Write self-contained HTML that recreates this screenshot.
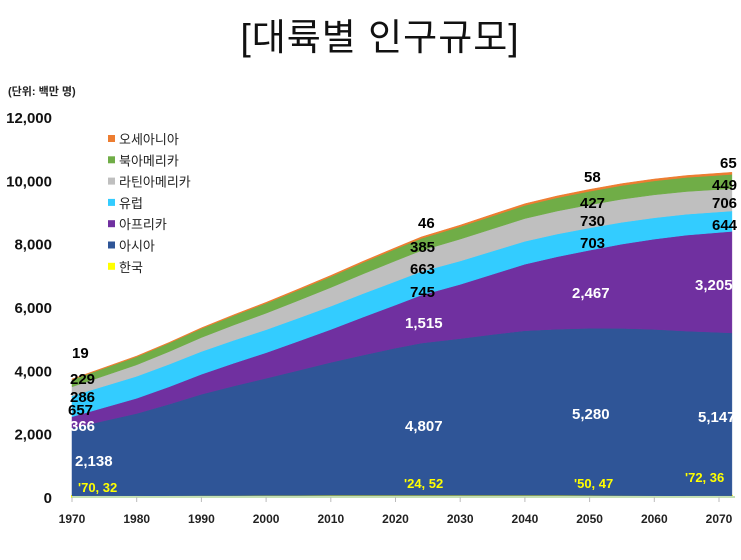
<!DOCTYPE html>
<html><head><meta charset="utf-8">
<style>
body{margin:0;background:#fff;width:741px;height:555px;overflow:hidden;font-family:"Liberation Sans","Noto Sans CJK KR",sans-serif;}
svg text{font-family:"Liberation Sans","Noto Sans CJK KR",sans-serif;}
</style></head>
<body>
<svg id="chart" width="741" height="555" xmlns="http://www.w3.org/2000/svg">
<text x="380" y="50" text-anchor="middle" font-size="37" letter-spacing="1" fill="#111">[대륙별 인구규모]</text>
<text x="8" y="95" font-size="11" font-weight="bold" fill="#222">(단위: 백만 명)</text>
<g id="areas"></g><g id="axes"></g><g id="labels"></g><g id="legend"></g>
</svg>
<script>
const years=[1970,1975,1980,1985,1990,1995,2000,2005,2010,2015,2020,2024,2030,2035,2040,2045,2050,2055,2060,2065,2072];
const korea=[32,35,38,41,43,45,47,48,49,51,52,52,52,51,50,49,47,45,42,39,36];
const asia=[2138,2370,2600,2890,3200,3460,3700,3950,4200,4430,4650,4807,4950,5080,5200,5250,5280,5280,5250,5200,5147];
const africa=[366,420,480,550,630,720,810,920,1040,1200,1360,1515,1710,1900,2100,2290,2467,2660,2850,3030,3205];
const europe=[657,677,694,708,721,724,726,731,736,742,746,745,740,733,725,715,703,690,675,660,644];
const latam=[286,324,362,402,443,483,522,557,591,622,650,663,690,706,720,727,730,729,725,718,706];
const namerica=[229,241,254,267,280,296,312,328,343,360,375,385,395,404,413,420,427,433,438,443,449];
const oceania=[19,21,23,25,27,29,31,34,37,40,43,46,48,51,53,56,58,60,62,63,65];
const yTicks=[0,2000,4000,6000,8000,10000,12000];
const xTicks=[1970,1980,1990,2000,2010,2020,2030,2040,2050,2060,2070];
const series=[["korea",korea,"#FFFF00"],["asia",asia,"#2F5597"],["africa",africa,"#7030A0"],["europe",europe,"#33CCFF"],["latin-america",latam,"#BFBFBF"],["north-america",namerica,"#70AD47"],["oceania",oceania,"#ED7D31"]];
const X=y=>72+(y-1970)*6.47;
const Y=v=>497-v*0.03167;
const NS="http://www.w3.org/2000/svg";
function mk(tag,attrs,parent,txt){const e=document.createElementNS(NS,tag);for(const k in attrs)e.setAttribute(k,attrs[k]);if(txt!==undefined)e.textContent=txt;parent.appendChild(e);return e;}
const areas=document.getElementById('areas');
let base=years.map(()=>0);
series.forEach(([name,vals,col])=>{
  const top=base.map((b,i)=>b+vals[i]);
  let d="";
  years.forEach((y,i)=>{d+=(i?"L":"M")+X(y).toFixed(1)+","+Y(top[i]).toFixed(1);});
  for(let i=years.length-1;i>=0;i--)d+="L"+X(years[i]).toFixed(1)+","+Y(base[i]).toFixed(1);
  const p=mk('path',{d:d+"Z",fill:col,stroke:col,'stroke-width':name==="korea"?2:0.5},areas);
  
  
  base=top;
});
const axes=document.getElementById('axes');
const ax=mk('line',{x1:72,y1:497,x2:735,y2:497,stroke:'#C5E0B4','stroke-width':2},axes);


yTicks.forEach(v=>{const t=mk('text',{x:52,y:Y(v)+6,'text-anchor':'end','font-size':15,'font-weight':'bold',fill:'#111'},axes,v.toLocaleString('en-US'));

});
xTicks.forEach(y=>{const l=mk('line',{x1:X(y),y1:497,x2:X(y),y2:502,stroke:'#bbb'},axes);


const t=mk('text',{x:X(y),y:523,'text-anchor':'middle','font-size':12,'font-weight':'bold',fill:'#222'},axes,y);

});
const labels=document.getElementById('labels');
const lab=[[72,'19',358,'#000',15],[70,'229',384,'#000',15],[70,'286',402,'#000',15],[68,'657',415,'#000',15],[70,'366',431,'#fff',15],[75,'2,138',466,'#fff',15],[78,"'70, 32",492,'#FFFF00',13],
[418,'46',228,'#000',15],[410,'385',252,'#000',15],[410,'663',274,'#000',15],[410,'745',297,'#000',15],[405,'1,515',328,'#fff',15],[405,'4,807',431,'#fff',15],[404,"'24,  52",488,'#FFFF00',13],
[584,'58',182,'#000',15],[580,'427',208,'#000',15],[580,'730',226,'#000',15],[580,'703',248,'#000',15],[572,'2,467',298,'#fff',15],[572,'5,280',419,'#fff',15],[574,"'50, 47",488,'#FFFF00',13],
[720,'65',168,'#000',15],[712,'449',190,'#000',15],[712,'706',208,'#000',15],[712,'644',230,'#000',15],[695,'3,205',290,'#fff',15],[698,'5,147',422,'#fff',15],[685,"'72, 36",482,'#FFFF00',13]];
lab.forEach(([x,t,y,c,fs])=>{const e=mk('text',{x:x,y:y,'font-size':fs,'font-weight':'bold',fill:c},labels,t);

});
const legend=document.getElementById('legend');
const leg=[["오세아니아","#ED7D31"],["북아메리카","#70AD47"],["라틴아메리카","#BFBFBF"],["유럽","#33CCFF"],["아프리카","#7030A0"],["아시아","#2F5597"],["한국","#FFFF00"]];
leg.forEach(([n,c],i)=>{const g=mk('g',{},legend);


const yy=140+i*21.3;mk('rect',{x:108,y:yy-5,width:7,height:7,fill:c},g);mk('text',{x:119,y:yy+4,'font-size':13,fill:'#222'},g,n);});
</script>
</body></html>
